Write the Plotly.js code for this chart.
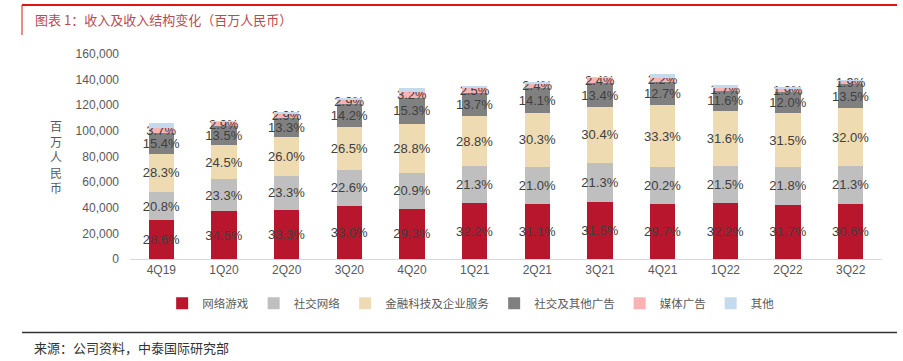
<!DOCTYPE html>
<html>
<head>
<meta charset="utf-8">
<script src="https://cdn.plot.ly/plotly-3.0.1.min.js"></script>
<style>
html,body{margin:0;padding:0;background:#fff;}
#chart{width:903px;height:361px;}
</style>
</head>
<body>
<div id="chart"></div>
<script>
const quarters = ["4Q19","1Q20","2Q20","3Q20","4Q20","1Q21","2Q21","3Q21","4Q21","1Q22","2Q22","3Q22"];
const games    = [30249,37282,38256,41398,39165,43568,42999,44846,42824,43622,42489,42868];
const social   = [22000,25179,26768,28351,27937,28820,29034,30324,29126,29126,29219,29840];
const fintech  = [29932,26476,29870,33243,38497,38967,41892,43280,48015,42809,42221,44830];
const socialAd = [16288,14589,15279,17813,20451,18537,19495,19077,18312,15715,16084,18913];
const mediaAd  = [3913,3134,3332,3638,4277,3383,3318,3417,3172,2303,2547,2662];
const others   = [3385,1405,1379,1004,3342,2030,1521,1424,2740,1897,1474,981];

const pctGames    = ["28.6%","34.5%","33.3%","33.0%","29.3%","32.2%","31.1%","31.5%","29.7%","32.2%","31.7%","30.6%"];
const pctSocial   = ["20.8%","23.3%","23.3%","22.6%","20.9%","21.3%","21.0%","21.3%","20.2%","21.5%","21.8%","21.3%"];
const pctFintech  = ["28.3%","24.5%","26.0%","26.5%","28.8%","28.8%","30.3%","30.4%","33.3%","31.6%","31.5%","32.0%"];
const pctSocialAd = ["15.4%","13.5%","13.3%","14.2%","15.3%","13.7%","14.1%","13.4%","12.7%","11.6%","12.0%","13.5%"];
const pctMediaAd  = ["3.7%","2.9%","2.9%","2.9%","3.2%","2.5%","2.4%","2.4%","2.2%","1.7%","1.9%","1.9%"];

const names = ["网络游戏","社交网络","金融科技及企业服务","社交及其他广告","媒体广告","其他"];
const colors = ["#B8162C","#BFBFBF","#EEDBB2","#808080","#F9B3B3","#C6DAEE"];
const series = [games, social, fintech, socialAd, mediaAd, others];
const labels = [pctGames, pctSocial, pctFintech, pctSocialAd, pctMediaAd, null];

const FONT = "Liberation Sans, Noto Sans CJK SC, sans-serif";
const CJK = "Noto Sans CJK SC, sans-serif";

const traces = series.map((vals, i) => ({
  type: "bar",
  name: names[i],
  x: quarters,
  y: vals,
  marker: {color: colors[i], line: {width: 0}},
  text: labels[i] || undefined,
  textposition: labels[i] ? "inside" : "none",
  insidetextanchor: "middle",
  textangle: 0,
  constraintext: "none",
  cliponaxis: false,
  insidetextfont: {family: FONT, size: 13, color: "#404040"},
  hoverinfo: "skip"
}));

const PW = 752, PH = 204.7;
const layout = {
  width: 903, height: 361,
  margin: {l: 130, r: 21, t: 54, b: 102},
  paper_bgcolor: "#fff",
  plot_bgcolor: "#fff",
  barmode: "stack",
  bargap: 0.6,
  showlegend: true,
  uniformtext: {mode: "show", minsize: 13},
  legend: {
    orientation: "h",
    traceorder: "normal",
    x: 0.453, xanchor: "center",
    y: -(303-258.7)/PH, yanchor: "middle",
    font: {family: CJK, size: 11.5, color: "#595959"},
    itemwidth: 30,
    tracegroupgap: 0
  },
  xaxis: {
    type: "category",
    showline: true, linecolor: "#D9D9D9", linewidth: 1,
    ticks: "", showgrid: false, zeroline: false,
    tickfont: {family: FONT, size: 12, color: "#595959"}
  },
  yaxis: {
    range: [0, 160000],
    dtick: 20000,
    tickformat: ",d",
    showgrid: false, zeroline: false, showline: false,
    ticks: "",
    ticklabelstandoff: 10,
    tickfont: {family: FONT, size: 12, color: "#595959"}
  },
  shapes: [
    {type: "line", xref: "paper", yref: "paper",
     x0: (22-130)/PW, x1: (897-130)/PW, y0: 1 + (54-5)/PH, y1: 1 + (54-5)/PH,
     line: {color: "#E3130F", width: 2}},
    {type: "line", xref: "paper", yref: "paper",
     x0: (22-130)/PW, x1: (22-130)/PW, y0: 1 + (54-5)/PH, y1: 1 + (54-35)/PH,
     line: {color: "#E3130F", width: 1}},
    {type: "line", xref: "paper", yref: "paper",
     x0: (22-130)/PW, x1: (897-130)/PW, y0: -(332-258.7)/PH, y1: -(332-258.7)/PH,
     line: {color: "#333333", width: 1.5}}
  ],
  annotations: [
    {text: "图表 1：收入及收入结构变化（百万人民币）", xref: "paper", yref: "paper",
     x: (33-130)/PW, y: 1 + (54-20)/PH, xanchor: "left", yanchor: "middle",
     showarrow: false, font: {family: CJK, size: 13, color: "#B84A52"}},
    {text: "百<br>万<br>人<br>民<br>币", xref: "paper", yref: "paper",
     x: (56-130)/PW, y: 1 - (156-54)/PH, xanchor: "center", yanchor: "middle",
     showarrow: false, font: {family: CJK, size: 12, color: "#595959"}},
    {text: "来源：公司资料，中泰国际研究部", xref: "paper", yref: "paper",
     x: (32-130)/PW, y: -(347-258.7)/PH, xanchor: "left", yanchor: "middle",
     showarrow: false, font: {family: CJK, size: 13, color: "#333333"}}
  ]
};

Plotly.newPlot("chart", traces, layout, {displayModeBar: false, staticPlot: true});
</script>
</body>
</html>
